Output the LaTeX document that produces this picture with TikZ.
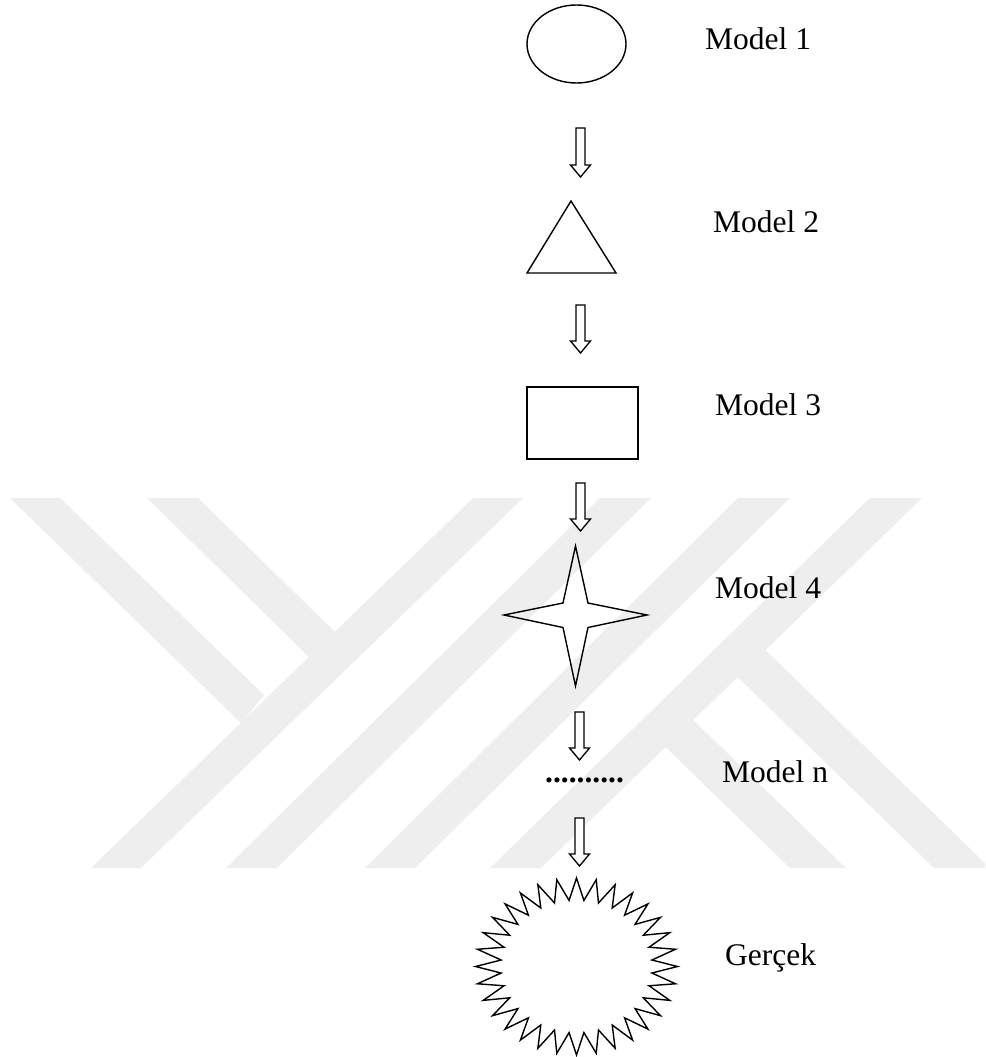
\documentclass[tikz,border=0pt]{standalone}
\usepackage{fontspec}
\setmainfont{Liberation Serif}
\usetikzlibrary{shapes.geometric,calc}
\definecolor{wm}{RGB}{238,238,238}
\tikzset{
  outl/.style={draw=black, line width=1.4pt, line join=miter},
  hollow/.style={draw=black, line width=1.3pt, fill=white, line join=miter},
  lbl/.style={anchor=base west, inner sep=0pt, font=\fontsize{31.5}{38}\selectfont},
  wmark/.style={fill=wm, draw=none}
}
% #1 = top coordinate of the shaft, #2 = tip coordinate
\newcommand{\hollowarrow}[2]{%
  \draw[hollow] ([xshift=-4.5pt]#1) -- ([xshift=-4.5pt,yshift=12pt]#2)
    -- ([xshift=-10pt,yshift=12pt]#2) -- (#2)
    -- ([xshift=10pt,yshift=12pt]#2) -- ([xshift=4.5pt,yshift=12pt]#2)
    -- ([xshift=4.5pt]#1) -- cycle;}
\begin{document}
\begin{tikzpicture}[x=1pt,y=-1pt]
\useasboundingbox (0,0) rectangle (985,1057);
\fill[white] (0,0) rectangle (985,1057);
% faint watermark
\begin{scope}
\clip (0,0) rectangle (985,1057);
\fill[wmark] (10,498) -- (60,498) -- (264,695) -- (241,723) -- cycle;
\fill[wmark] (147,498) -- (198,498) -- (335,632) -- (309,657) -- cycle;
\fill[wmark] (473,498) -- (523,498) -- (141,868) -- (91,868) -- cycle;
\fill[wmark] (600,498) -- (651,498) -- (277,868) -- (226,868) -- cycle;
\fill[wmark] (738,498) -- (790,498) -- (415,868) -- (365,868) -- cycle;
\fill[wmark] (870,498) -- (922,498) -- (541,868) -- (490,868) -- cycle;
\fill[wmark] (765.4,650) -- (990,868) -- (934,868) -- (737.6,677) -- cycle;
\fill[wmark] (693.3,720) -- (846,868) -- (790,868) -- (665.5,747) -- cycle;
\end{scope}

% shapes
\node[ellipse, outl, minimum width=99pt, minimum height=78pt, inner sep=0pt] (m1) at (576.5,44) {};
\draw[outl] (571,201) coordinate (m2top) -- (616,273) -- (527,273) -- cycle;
\coordinate (m2) at (571,249);
\node[rectangle, outl, minimum width=111pt, minimum height=72pt, inner sep=0pt] (m3) at (582.5,423) {};
\coordinate (m4) at (575.5,615);
\draw[outl] ($(m4)+(0,-69)$) -- ($(m4)+(12.5,-12)$) -- ($(m4)+(71.5,0)$)
  -- ($(m4)+(12.5,12.5)$) -- ($(m4)+(0,71)$) -- ($(m4)+(-12.5,12.5)$)
  -- ($(m4)+(-71.5,0)$) -- ($(m4)+(-12.5,-12)$) -- cycle;
\node[anchor=base, inner sep=0pt, font=\fontsize{31.5}{38}\selectfont\bfseries] (mn) at (584.5,782) {..........};
\coordinate (sun) at (576.5,966.5);
\draw[outl] ($(sun)+(0,88.5)$)
  \foreach \i [evaluate=\i as \a using {90+\i*5.625},
               evaluate=\i as \rx using {101*(1-0.25*mod(\i,2))},
               evaluate=\i as \ry using {88.5*(1-0.25*mod(\i,2))}] in {1,...,63}
  { -- ($(sun)+({\rx*cos(\a)},{\ry*sin(\a)})$) } -- cycle;

% labels
\node[lbl] (l1) at (705,50) {Model 1};
\node[lbl] (l2) at (713,232) {Model 2};
\node[lbl] (l3) at (715,415) {Model 3};
\node[lbl] (l4) at (715,598) {Model 4};
\node[lbl] (ln) at (722,782) {Model n};
\node[lbl] (lg) at (725,965) {Gerçek};

% arrows
\coordinate (a1t) at (580.5,128); \coordinate (a1b) at (580.5,177);
\coordinate (a2t) at (580.5,305); \coordinate (a2b) at (580.5,353);
\coordinate (a3t) at (580.5,483); \coordinate (a3b) at (580.5,531);
\coordinate (a4t) at (579.5,712); \coordinate (a4b) at (579.5,760);
\coordinate (a5t) at (579.5,818); \coordinate (a5b) at (579.5,866);
\hollowarrow{a1t}{a1b}
\hollowarrow{a2t}{a2b}
\hollowarrow{a3t}{a3b}
\hollowarrow{a4t}{a4b}
\hollowarrow{a5t}{a5b}
\end{tikzpicture}
\end{document}
